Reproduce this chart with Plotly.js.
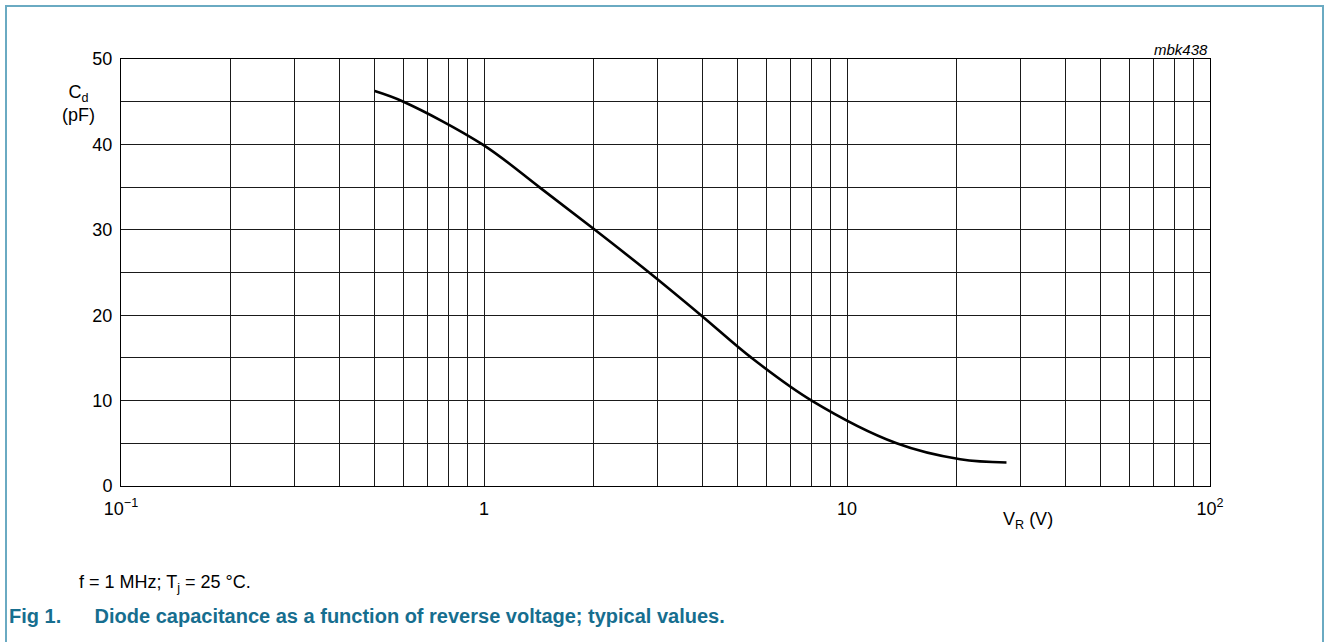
<!DOCTYPE html>
<html>
<head>
<meta charset="utf-8">
<script src="https://cdn.plot.ly/plotly-3.0.1.min.js"></script>
<style>
  html, body { margin: 0; padding: 0; background: #fff; }
  #wrap { position: relative; width: 1327px; height: 642px; overflow: hidden; }
  #frame { position: absolute; left: 5px; top: 5px; width: 1315px; height: 700px;
           border-top: 2px solid #6aaac2; border-left: 2px solid #6aaac2; border-right: 2px solid #6aaac2;
           pointer-events: none; }
  #chart { position: absolute; left: 0; top: 0; width: 1327px; height: 642px; }
</style>
</head>
<body>
<div id="wrap">
  <div id="chart"></div>
  <div id="frame"></div>
</div>
<script>
// Reverse voltage V_R (V) and diode capacitance C_d (pF)
const vr = [0.5, 0.6, 0.99, 1.42, 2.02, 2.85, 3.96, 5.46, 7.99, 13.7, 20.5, 27.5];
const cd = [46.25, 45.0, 40.0, 35.0, 30.0, 25.0, 20.0, 15.0, 10.0, 5.0, 3.13, 2.75];

// x-axis grid / tick positions and labels
const xTickVals = [0.1,0.2,0.3,0.4,0.5,0.6,0.7,0.8,0.9,
                   1,2,3,4,5,6,7,8,9,
                   10,20,30,40,50,60,70,80,90,100];
const xTickText = ['10<sup>\u22121</sup>','','','','','','','','',
                   '1','','','','','','','','',
                   '10','','','','','','','','',
                   '10<sup>2</sup>'];
// y-axis grid / tick positions and labels
const yTickVals = [0,5,10,15,20,25,30,35,40,45,50];
const yTickText = ['0','','10','','20','','30','','40','','50'];

const font = 'Liberation Sans, Arial, sans-serif';

const trace = {
  x: vr, y: cd, type: 'scatter', mode: 'lines',
  line: { color: '#000', width: 2.6, shape: 'spline', smoothing: 1.0 },
  hoverinfo: 'skip'
};

const layout = {
  width: 1327, height: 642,
  margin: { l: 121, r: 117, t: 59, b: 156 },
  paper_bgcolor: 'rgba(0,0,0,0)', plot_bgcolor: '#fff',
  showlegend: false,
  font: { family: font, size: 18, color: '#000' },
  xaxis: {
    type: 'log', range: [-1, 2],
    tickmode: 'array', tickvals: xTickVals, ticktext: xTickText,
    showgrid: true, gridcolor: '#1a1a1a', gridwidth: 1,
    showline: true, linecolor: '#000', linewidth: 1, mirror: true,
    zeroline: false, ticks: '', ticklabelstandoff: 6,
    tickfont: { family: font, size: 18, color: '#000' }
  },
  yaxis: {
    range: [0, 50],
    tickmode: 'array', tickvals: yTickVals, ticktext: yTickText,
    showgrid: true, gridcolor: '#1a1a1a', gridwidth: 1,
    showline: true, linecolor: '#000', linewidth: 1, mirror: true,
    zeroline: false, ticks: '', ticklabelstandoff: 4,
    tickfont: { family: font, size: 18, color: '#000' }
  },
  annotations: [
    { text: 'C<sub>d</sub><br>(pF)', xref: 'paper', yref: 'paper',
      x: (78 - 121) / 1089, y: (486 - 103) / 427, xanchor: 'center', yanchor: 'middle', showarrow: false,
      font: { family: font, size: 18, color: '#000' } },
    { text: 'V<sub>R</sub> (V)', xref: 'paper', yref: 'paper',
      x: (1028 - 121) / 1089, y: (486 - 520) / 427, xanchor: 'center', yanchor: 'middle', showarrow: false,
      font: { family: font, size: 18, color: '#000' } },
    { text: '<i>mbk438</i>', xref: 'paper', yref: 'paper',
      x: 1, y: (486 - 50) / 427, xanchor: 'right', yanchor: 'middle', showarrow: false,
      font: { family: font, size: 15, color: '#000' } },
    { text: 'f = 1 MHz; T<sub>j</sub> = 25 \u00b0C.', xref: 'paper', yref: 'paper',
      x: (77 - 121) / 1089, y: (486 - 583) / 427, xanchor: 'left', yanchor: 'middle', showarrow: false,
      font: { family: font, size: 18, color: '#000' } },
    { text: '<b>Fig 1.\u00a0\u00a0\u00a0\u00a0\u00a0\u00a0Diode capacitance as a function of reverse voltage; typical values.</b>',
      xref: 'paper', yref: 'paper',
      x: (7 - 121) / 1089, y: (486 - 616) / 427, xanchor: 'left', yanchor: 'middle', showarrow: false,
      font: { family: font, size: 20, color: '#166e8f' } }
  ]
};

Plotly.newPlot('chart', [trace], layout, { displayModeBar: false, staticPlot: true });
</script>
</body>
</html>
